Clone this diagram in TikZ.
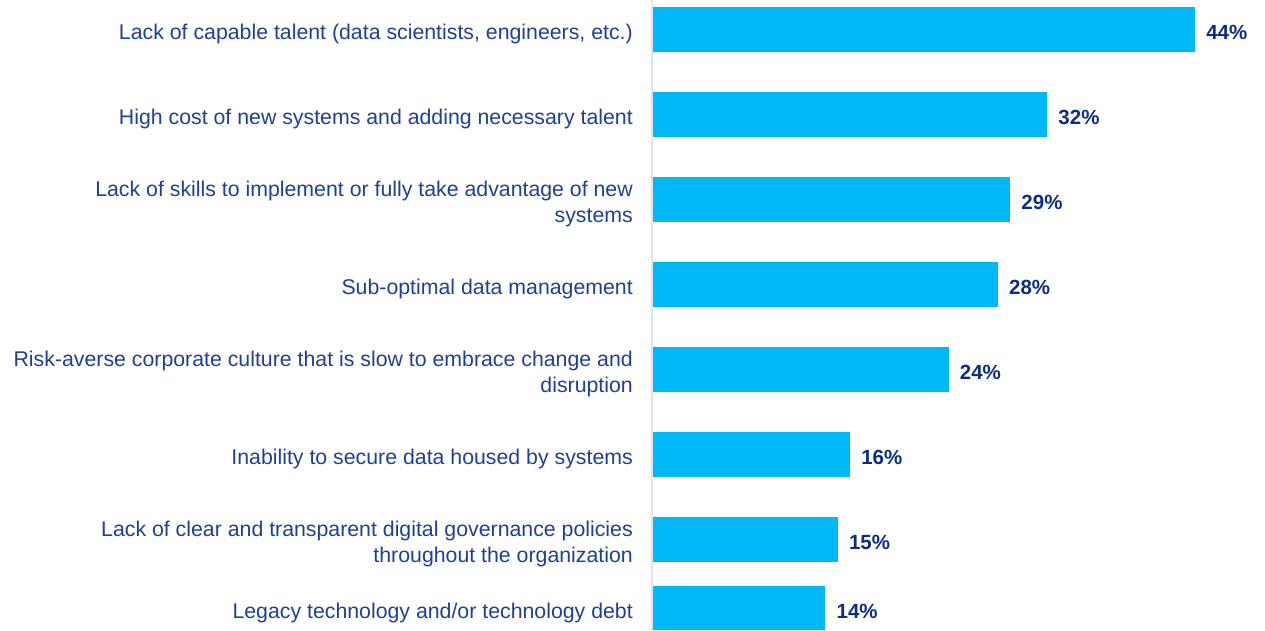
\documentclass[tikz,border=0pt]{standalone}
\usepackage{fontspec}
\setmainfont{Liberation Sans}
\definecolor{barblue}{RGB}{0,184,245}
\definecolor{txtblue}{RGB}{30,64,150}
\definecolor{pctblue}{RGB}{12,45,131}
\definecolor{axisgrey}{RGB}{228,228,228}
\tikzset{
  bar/.style={fill=barblue},
  lbl/.style={anchor=east, align=right, inner sep=0pt, text=txtblue,
    font=\fontsize{21.3}{26}\selectfont},
  pct/.style={anchor=west, inner sep=0pt, text=pctblue,
    font=\fontsize{20.5}{24}\selectfont\bfseries},
}
\begin{document}
\begin{tikzpicture}[x=1pt, y=-1pt]
    \useasboundingbox (0,0) rectangle (1265,630);
    \draw[axisgrey, line width=2pt] (652,0) -- (652,630);
    % value/centre/height/label
    \foreach \v/\c/\h/\t [count=\i] in {
        44/29.5/45/{Lack of capable talent (data scientists, engineers, etc.)},
        32/114.5/45/{High cost of new systems and adding necessary talent},
        29/199.5/45/{Lack of skills to implement or fully take advantage of new\\systems},
        28/284.5/45/{Sub-optimal data management},
        24/369.5/45/{Risk-averse corporate culture that is slow to embrace change and\\disruption},
        16/454.5/45/{Inability to secure data housed by systems},
        15/539.5/45/{Lack of clear and transparent digital governance policies\\throughout the organization},
        14/608/44/{Legacy technology and/or technology debt}} {
      \fill[bar] (653,\c-\h/2) rectangle ++(\v*12.32,\h);
      \node[lbl] (lbl\i) at (633,\c+4.5) {\t};
      \node[pct] (pct\i) at (653+\v*12.32+11,\c+3) {\v\%};
    }
\end{tikzpicture}
\end{document}
